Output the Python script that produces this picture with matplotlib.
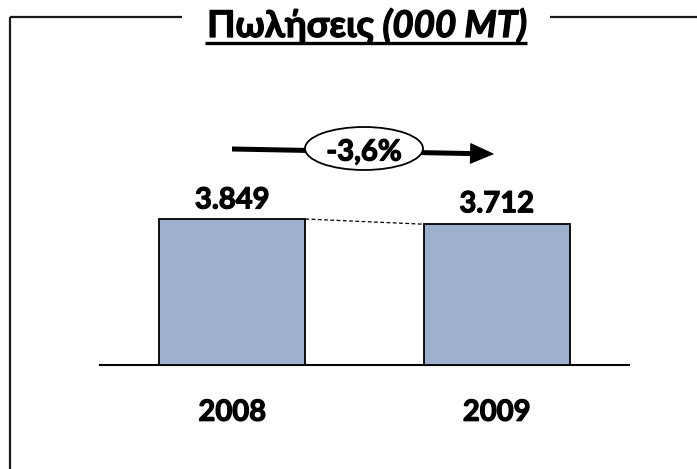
import matplotlib
matplotlib.use('Agg')
import matplotlib.pyplot as plt
import matplotlib.patheffects as pe
from matplotlib.lines import Line2D
from matplotlib.patches import Ellipse, FancyArrowPatch

# ---- data ----
years = ['2008', '2009']
sales = [3849, 3712]
value_labels = ['3.849', '3.712']
change_label = '-3,6%'
title_main = 'Πωλήσεις '
title_unit = '(000 MT)'

W, H = 697, 469
plt.rcParams['font.family'] = ['Lato', 'DejaVu Sans']
fig = plt.figure(figsize=(W / 100, H / 100), dpi=100)
WT = 'bold'
heavy = [pe.withStroke(linewidth=0.9, foreground='black')]


def fx(px):
    return px / W


def fy(py):
    return 1 - py / H


# ---- frame ----
lc = '#1a1a1a'
fig.add_artist(Line2D([fx(10), fx(10)], [fy(17), fy(469)], color=lc, lw=1.6,
                      transform=fig.transFigure, solid_capstyle='butt'))
fig.add_artist(Line2D([fx(9.5), fx(182)], [fy(17), fy(17)], color=lc, lw=1.6,
                      transform=fig.transFigure, solid_capstyle='butt'))
fig.add_artist(Line2D([fx(550), fx(697)], [fy(17), fy(17)], color=lc, lw=1.6,
                      transform=fig.transFigure, solid_capstyle='butt'))

# ---- bar axes ----
ymax = 7000
px_per_unit = 146 / 3849
ax_h = ymax * px_per_unit
ax = fig.add_axes([fx(100), (H - 365) / H, (629 - 100) / W, ax_h / H])
bars = ax.bar(range(len(years)), sales, width=0.553, color='#9DB1CF',
              edgecolor='black', linewidth=1.3, zorder=3)
ax.set_xlim(-0.5, 1.5)
ax.set_ylim(0, ymax)
for s in ['top', 'right', 'left']:
    ax.spines[s].set_visible(False)
ax.spines['bottom'].set_linewidth(1.5)
ax.spines['bottom'].set_color('black')
ax.set_yticks([])
ax.set_xticks(range(len(years)))
ax.set_xticklabels(years, fontsize=21, fontweight=WT)
for t in ax.get_xticklabels():
    t.set_path_effects(heavy)
ax.tick_params(axis='x', length=0, pad=25)

label_gaps = [4, 5]
for i, (v, lab) in enumerate(zip(sales, value_labels)):
    ax.annotate(lab, (i, v), xytext=(0, label_gaps[i]), textcoords='offset points',
                ha='center', va='bottom', fontsize=21, fontweight=WT,
                path_effects=heavy)

# dashed connector between bar tops
b0, b1 = bars[0], bars[1]
ax.plot([b0.get_x() + b0.get_width(), b1.get_x()],
        [b0.get_height(), b1.get_height()], ls=(0, (3, 2)), color='black',
        lw=0.9, zorder=2)

# ---- change arrow + ellipse ----
fig.add_artist(Line2D([fx(232), fx(484)], [fy(149), fy(153.8)], color='black', lw=3.6,
                      transform=fig.transFigure, solid_capstyle='butt'))
head = FancyArrowPatch((fx(478), fy(153.6)), (fx(497), fy(154)),
                       transform=fig.transFigure,
                       arrowstyle='-|>,head_length=1.6,head_width=0.7',
                       mutation_scale=10, lw=0.8, color='black')
fig.add_artist(head)
ell = Ellipse((fx(364), fy(148.5)), 118 / W, 43 / H, transform=fig.transFigure,
              facecolor='white', edgecolor='black', lw=1.3, zorder=5)
fig.add_artist(ell)
fig.text(fx(364), fy(150), change_label, ha='center', va='center_baseline',
         fontsize=21, fontweight=WT, zorder=6, path_effects=heavy)

# ---- title ----
fig.canvas.draw()
r = fig.canvas.get_renderer()
t_size = 26.5
t1 = fig.text(0, fy(37), title_main, fontsize=t_size, fontweight=WT,
              ha='left', va='baseline', path_effects=heavy)
t2 = fig.text(0, fy(37), title_unit, fontsize=t_size, fontweight=WT,
              fontstyle='italic', ha='left', va='baseline', path_effects=heavy)
w1 = t1.get_window_extent(r).width
w2 = t2.get_window_extent(r).width
total = w1 + w2
x0 = 367 - total / 2
t1.set_x(fx(x0))
t2.set_x(fx(x0 + w1))
fig.add_artist(Line2D([fx(x0 - 2), fx(x0 + total)], [fy(43), fy(43)], color='black',
                      lw=2.4, transform=fig.transFigure, solid_capstyle='butt'))

fig.savefig('out.png', dpi=100, facecolor='white')
